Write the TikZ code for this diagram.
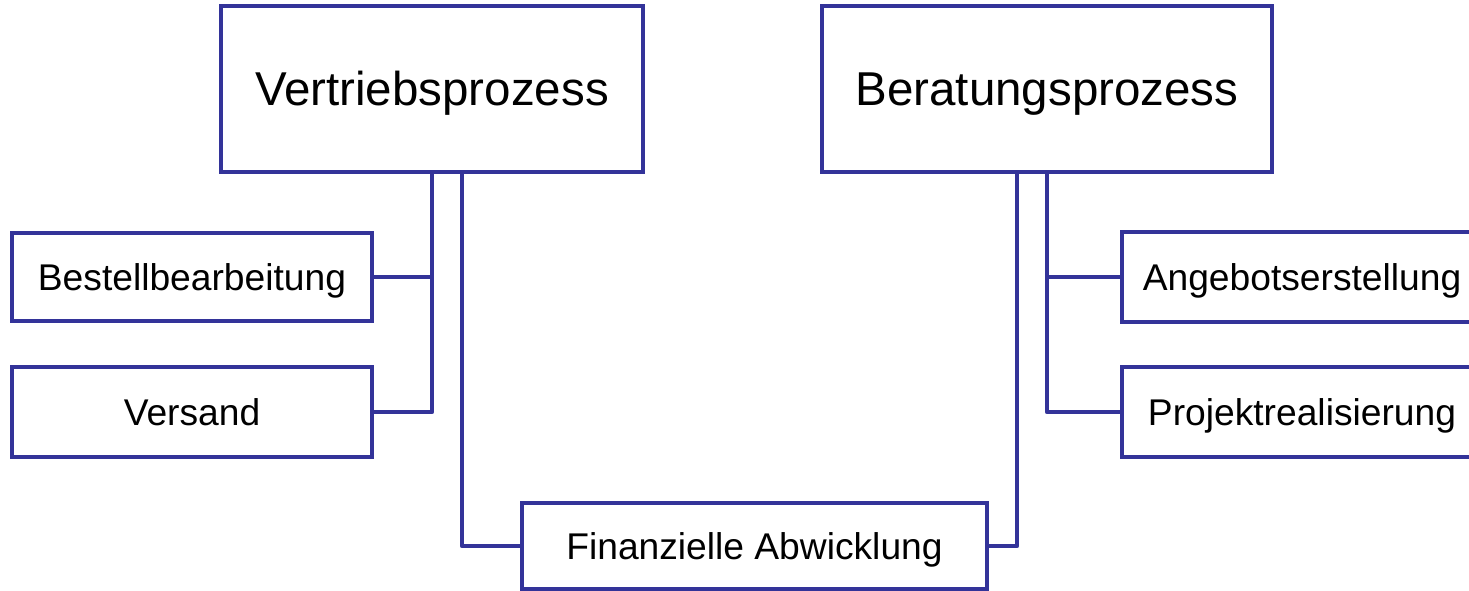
\documentclass[tikz,border=0pt]{standalone}
\usepackage{fontspec}
\setmainfont{Liberation Sans}
\definecolor{navy}{HTML}{333399}
\begin{document}
\begin{tikzpicture}[x=1pt,y=-1pt,
  box/.style={draw=navy,line width=4.5pt,fill=white,inner sep=0pt,align=center,text depth=0pt},
  big/.style={box,font=\fontsize{47.5}{52}\selectfont,text height=33pt},
  small/.style={box,font=\fontsize{37.2}{41}\selectfont,text height=26pt},
  link/.style={draw=navy,line width=4.5pt,line join=round}]
\useasboundingbox (0,0) rectangle (1469,591);
\clip (0,0) rectangle (1469,591);

% main processes
\node[big,minimum width=422pt,minimum height=166pt] (vp) at (432,89) {Vertriebsprozess};
\node[big,minimum width=450pt,minimum height=166pt] (bp) at (1047,89) {Beratungsprozess};

% sub-processes
\node[small,minimum width=360pt,minimum height=88pt] (bb) at (192,277) {Bestellbearbeitung};
\node[small,minimum width=360pt,minimum height=90pt] (vs) at (192,412) {Versand};
\node[small,minimum width=360pt,minimum height=90pt] (ag) at (1302,277) {Angebotserstellung};
\node[small,minimum width=360pt,minimum height=90pt] (pr) at (1302,412) {Projektrealisierung};
\node[small,minimum width=465pt,minimum height=86pt] (fa) at (754.5,546) {Finanzielle Abwicklung};

% connectors
\draw[link] (vp.south) |- (vs.east);
\draw[link] (bb.east) -- (bb.east -| vp.south);
\draw[link] ([xshift=30pt]vp.south) |- (fa.west);
\draw[link] (bp.south) |- (pr.west);
\draw[link] (ag.west) -- (ag.west -| bp.south);
\draw[link] ([xshift=-30pt]bp.south) |- (fa.east);
\end{tikzpicture}
\end{document}
